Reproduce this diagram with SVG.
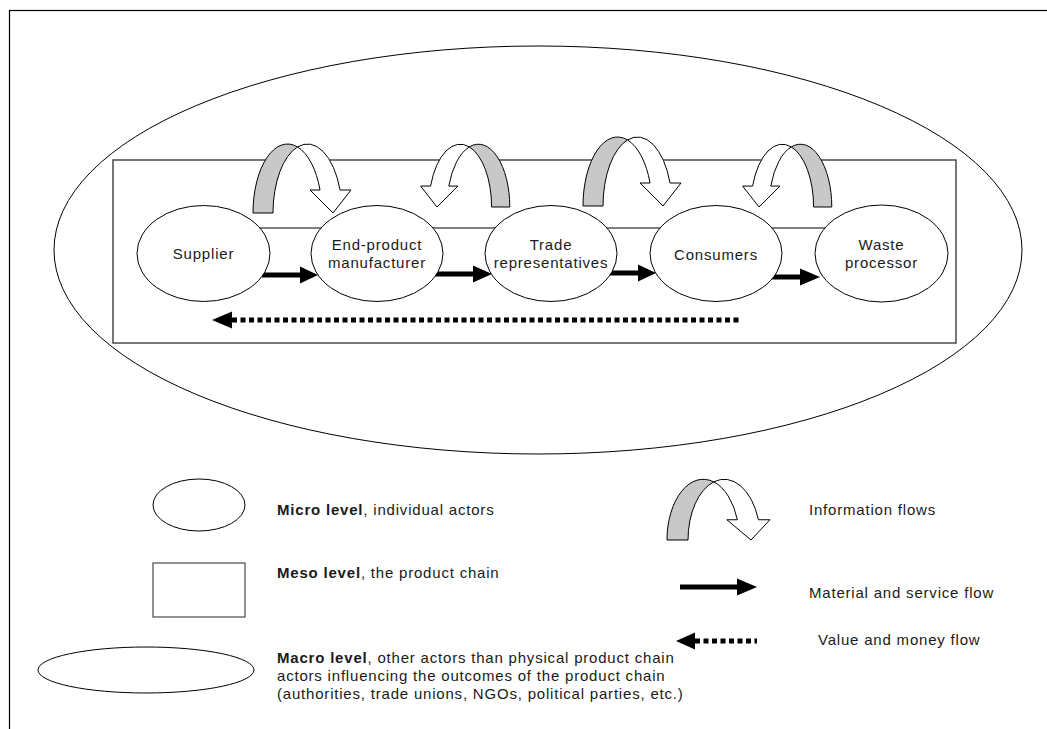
<svg xmlns="http://www.w3.org/2000/svg" xmlns:xlink="http://www.w3.org/1999/xlink" width="1047" height="729" viewBox="0 0 1047 729">
  <style>
    .frame { fill: none; stroke: #000; stroke-width: 1.2; }
    .actor { fill: #fff; stroke: #000; stroke-width: 1; }
    .chain { fill: none; stroke: #4a4a4a; stroke-width: 1.5; }
    .macro { fill: none; stroke: #000; stroke-width: 1; }
    .link { stroke: #000; stroke-width: 1; }
    .band-back { fill: #c8c8c8; stroke: #000; stroke-width: 1; vector-effect: non-scaling-stroke; }
    .band-front { fill: #fff; stroke: #000; stroke-width: 1; vector-effect: non-scaling-stroke; }
    .hull { fill: #fff; stroke: none; }
    .flow { fill: #000; }
    .money { stroke: #000; stroke-width: 5; stroke-dasharray: 5 3.5; fill: none; }
    text { font-family: "Liberation Sans", Arial, sans-serif; font-size: 15px; fill: #1a1a1a; letter-spacing: 0.8px; }
    .c { text-anchor: middle; }
    .b { font-weight: bold; }
  </style>
  <defs>
    <!-- curved information-flow arrow, tip at origin, pointing down-right -->
    <g id="infoArrow">
      <path class="hull" d="M-80,0 A34.5,69 0 0,1 -11,0 Z M-60,0 A34.5,69 0 0,1 9,0 Z"/>
      <path class="band-back" d="M-80,0 A34.5,69 0 0,1 -35.5,-66.04 A34.5,69 0 0,0 -60,0 Z"/>
      <path class="band-front" d="M-35.5,-66.04 A34.5,69 0 0,1 7.03,-23 L18,-23 L0,0 L-23,-23 L-12.97,-23 A34.5,69 0 0,0 -35.5,-66.04 Z"/>
    </g>
  </defs>

  <rect width="1047" height="729" fill="#fff"/>
  <!-- page frame -->
  <rect class="frame" x="9.5" y="10.5" width="1100" height="800"/>

  <!-- macro level -->
  <ellipse id="macro-level" class="macro" cx="538" cy="250" rx="484" ry="204"/>
  <!-- meso level: the product chain -->
  <rect id="product-chain" class="chain" x="113" y="160" width="843" height="183"/>

  <g id="connectors">
    <line class="link" x1="203" y1="228" x2="881" y2="228"/>
    <!-- information flows -->
    <use xlink:href="#infoArrow" transform="translate(333,213)"/>
    <use xlink:href="#infoArrow" transform="translate(437,207) scale(-0.91,0.91)"/>
    <use xlink:href="#infoArrow" transform="translate(663,206)"/>
    <use xlink:href="#infoArrow" transform="translate(759,207) scale(-0.91,0.91)"/>
    <!-- material and service flow -->
    <polygon class="flow" points="262,272.5 300,272.5 300,266.5 318,275 300,283.5 300,277.5 262,277.5"/>
    <polygon class="flow" points="435,271.5 473,271.5 473,265.5 492,274 473,282.5 473,276.5 435,276.5"/>
    <polygon class="flow" points="608,270.5 638,270.5 638,264.5 656,273 638,281.5 638,275.5 608,275.5"/>
    <polygon class="flow" points="770,274.5 800,274.5 800,268.5 820,277 800,285.5 800,279.5 770,279.5"/>
    <!-- value and money flow -->
    <line class="money" x1="232" y1="320" x2="742" y2="320"/>
    <polygon class="flow" points="212,320 232,311.5 232,328.5"/>
  </g>

  <g id="supplier">
    <ellipse class="actor" cx="203.5" cy="253.5" rx="66.5" ry="48"/>
    <text class="c" x="203.5" y="259">Supplier</text>
  </g>
  <g id="end-product-manufacturer">
    <ellipse class="actor" cx="377" cy="253.5" rx="66" ry="48"/>
    <text class="c" x="377" y="250">End-product</text>
    <text class="c" x="377" y="268">manufacturer</text>
  </g>
  <g id="trade-representatives">
    <ellipse class="actor" cx="551" cy="253.5" rx="66" ry="48"/>
    <text class="c" x="551" y="250">Trade</text>
    <text class="c" x="551" y="268">representatives</text>
  </g>
  <g id="consumers">
    <ellipse class="actor" cx="716" cy="253.5" rx="66" ry="48"/>
    <text class="c" x="716" y="260">Consumers</text>
  </g>
  <g id="waste-processor">
    <ellipse class="actor" cx="881.5" cy="253.5" rx="66.5" ry="48.5"/>
    <text class="c" x="881.5" y="250">Waste</text>
    <text class="c" x="881.5" y="268">processor</text>
  </g>

  <!-- legend -->
  <g id="legend">
    <ellipse class="actor" cx="199" cy="505" rx="46" ry="26"/>
    <text x="277" y="515"><tspan class="b">Micro level</tspan>, individual actors</text>

    <rect class="chain" x="153" y="563" width="92" height="54" style="stroke-width:1.2"/>
    <text x="277" y="578"><tspan class="b">Meso level</tspan>, the product chain</text>

    <ellipse class="macro" cx="146" cy="670" rx="108" ry="23"/>
    <text x="277" y="663"><tspan class="b">Macro level</tspan>, other actors than physical product chain</text>
    <text x="277" y="681">actors influencing the outcomes of the product chain</text>
    <text x="277" y="699">(authorities, trade unions, NGOs, political parties, etc.)</text>

    <use xlink:href="#infoArrow" transform="translate(751,540) scale(1.05,0.88)"/>
    <text x="809" y="515">Information flows</text>

    <polygon class="flow" points="680,584.5 737,584.5 737,578.5 757,587 737,595.5 737,589.5 680,589.5"/>
    <text x="809" y="598">Material and service flow</text>

    <line class="money" x1="695" y1="641" x2="757" y2="641"/>
    <polygon class="flow" points="676,641 695,632.5 695,649.5"/>
    <text x="818" y="645">Value and money flow</text>
  </g>
</svg>
